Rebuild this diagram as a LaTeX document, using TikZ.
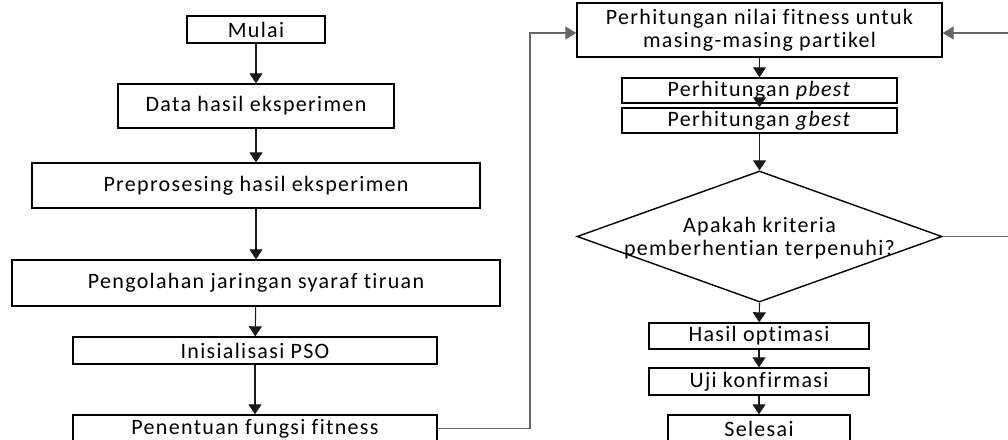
\documentclass[tikz,border=0pt]{standalone}
\usepackage{fontspec}
\newfontfamily\flowfont{Carlito}[LetterSpace=6,Ligatures={NoCommon,NoRare}]
\usetikzlibrary{shapes.geometric,arrows.meta}
\tikzset{
  kotak/.style={draw=black, line width=1.4pt, inner sep=0pt, align=center,
    font=\flowfont\fontsize{22}{23}\selectfont},
  tulisan/.style={inner sep=0pt, align=center, font=\flowfont\fontsize{22}{23}\selectfont},
  putusan/.style={draw=black, line width=1.4pt, shape=diamond, aspect=2.79, inner sep=0pt},
  panah/.style={-{Triangle[width=13pt,length=10pt]}, line width=1.1pt, color=black!90},
  balik/.style={-{Triangle[width=13pt,length=11pt]}, line width=1.2pt, color=black!60},
}
\begin{document}
\begin{tikzpicture}[x=1pt,y=-1pt]
  \useasboundingbox (0,0) rectangle (1008,439);
  \clip (0,0) rectangle (1008,439);

  % kolom kiri
  \node [kotak, minimum width=138, minimum height=27] (mulai) at (256,29.5) {Mulai};
  \node [kotak, minimum width=276, minimum height=44] (data) at (256,106) {Data hasil eksperimen};
  \node [kotak, minimum width=448, minimum height=45] (prepro) at (256,185.5) {Preprosesing hasil eksperimen};
  \node [kotak, minimum width=488, minimum height=46] (olah) at (256,283) {Pengolahan jaringan syaraf tiruan};
  \node [kotak, minimum width=364, minimum height=27] (init) at (255,350.5) {Inisialisasi PSO};
  \node [kotak, minimum width=364, minimum height=27] (fitfun) at (255,428.5) {Penentuan fungsi fitness};

  \draw [panah] (mulai) -- (data);
  \draw [panah] (data) -- (prepro);
  \draw [panah] (prepro) -- (olah);
  \draw [panah] (olah) -- (init);
  \draw [panah] (init) -- (fitfun);

  % kolom kanan
  \node [kotak, minimum width=365, minimum height=54] (hitung) at (759.5,30)
    {Perhitungan nilai fitness untuk\\masing-masing partikel};
  \node [kotak, minimum width=275, minimum height=25] (pbest) at (759.5,90.5) {Perhitungan \textit{pbest}};
  \node [kotak, minimum width=275, minimum height=25] (gbest) at (759.5,120.5) {Perhitungan \textit{gbest}};
  \node [putusan, minimum width=365, minimum height=131] (cek) at (759.5,236.5) {};
  \node [tulisan] (cektanya) at ([yshift=-2pt]cek.center) {Apakah kriteria\\pemberhentian terpenuhi?};
  \node [kotak, minimum width=220, minimum height=26] (hasil) at (759,336) {Hasil optimasi};
  \node [kotak, minimum width=220, minimum height=27] (uji) at (759,381.5) {Uji konfirmasi};
  \node [kotak, minimum width=182, minimum height=27] (selesai) at (759,428.5) {Selesai};

  \draw [panah] (hitung) -- (pbest);
  \draw [panah] (pbest) -- (gbest);
  \draw [panah] (gbest) -- (cek.north);
  \draw [panah] (cek.south) -- (hasil);
  \draw [panah] (hasil) -- (uji);
  \draw [panah] (uji) -- (selesai);

  % garis balik
  \coordinate (kiri) at (530,33);
  \coordinate (kanan) at (1016,33);
  \draw [balik] (fitfun.east) -| (kiri) -- ([yshift=-3pt]hitung.west);
  \draw [balik] (cek.east) -| (kanan) -- ([yshift=-3pt]hitung.east);
\end{tikzpicture}
\end{document}
